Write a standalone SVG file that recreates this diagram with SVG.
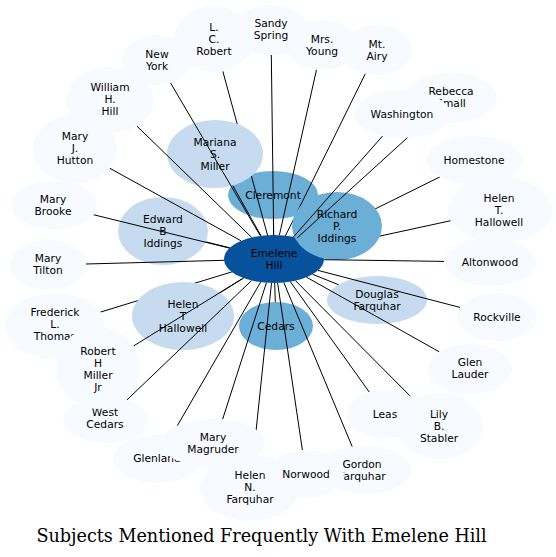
<svg xmlns="http://www.w3.org/2000/svg" width="556" height="557" viewBox="0 0 556 557">
<style>
.o{fill:#f7fbff}
.l{fill:#c6dbef}
.m{fill:#6baed6}
.d{fill:#08519c}
.t{font-family:"DejaVu Sans","Liberation Sans",sans-serif;font-size:10.7px;text-anchor:middle;fill:#000}
.e{stroke:#000;stroke-width:1;fill:none}
.title{font-family:"DejaVu Serif","Liberation Serif",serif;font-size:17.6px;text-anchor:middle;fill:#000}
</style>
<rect width="556" height="557" fill="#fff"/>

<g id="mid-nodes">
<g id="edward-b-iddings"><ellipse class="l" cx="163" cy="231" rx="45" ry="34"/><text class="t"><tspan x="163" y="223">Edward</tspan><tspan x="163" y="235">B</tspan><tspan x="163" y="247">Iddings</tspan></text></g>
<g id="cleremont"><ellipse class="m" cx="273" cy="195" rx="45" ry="24"/><text class="t" x="273" y="199">Cleremont</text></g>
<g id="cedars"><ellipse class="m" cx="276" cy="326" rx="37" ry="24"/><text class="t" x="276" y="330">Cedars</text></g>
<g id="douglas-farquhar"><ellipse class="l" cx="377" cy="300" rx="50" ry="24"/><text class="t"><tspan x="377" y="298">Douglas</tspan><tspan x="377" y="310">Farquhar</tspan></text></g>
</g>

<g id="connectors-under">
<path class="e" d="M274 259L222.8 71.2"/>
<path class="e" d="M274 259L365.4 73.6"/>
<path class="e" d="M274 259L439.9 176.9"/>
<path class="e" d="M274 259L450.8 220.7"/>
<path class="e" d="M274 259L100.4 312.1"/>
<path class="e" d="M274 259L337 226"/>
</g>

<g id="inner-nodes">
<g id="mariana-s-miller"><ellipse class="l" cx="215" cy="154" rx="48" ry="34"/><text class="t"><tspan x="215" y="146">Mariana</tspan><tspan x="215" y="158">S.</tspan><tspan x="215" y="170">Miller</tspan></text></g>
<g id="helen-t-hallowell-left"><ellipse class="l" cx="183" cy="316" rx="51" ry="34"/><text class="t"><tspan x="183" y="308">Helen</tspan><tspan x="183" y="320">T</tspan><tspan x="183" y="332">Hallowell</tspan></text></g>
<g id="emelene-hill"><ellipse class="d" cx="274" cy="259" rx="50" ry="24"/><text class="t"><tspan x="274" y="257">Emelene</tspan><tspan x="274" y="269">Hill</tspan></text></g>
<g id="richard-p-iddings"><ellipse class="m" cx="337" cy="226" rx="45" ry="34"/><text class="t"><tspan x="337" y="218">Richard</tspan><tspan x="337" y="230">P.</tspan><tspan x="337" y="242">Iddings</tspan></text></g>
</g>

<g id="connectors">
<path class="e" d="M273.7 235L271.3 55"/>
<path class="e" d="M260.4 235.9L170.6 83"/>
<path class="e" d="M279.4 235.1L316.5 69.7"/>
<path class="e" d="M297.3 237.8L427.4 119.5"/>
<path class="e" d="M293.5 236.9L382.6 136"/>
<path class="e" d="M324 259.7L444 261.4"/>
<path class="e" d="M318 270.4L460.3 307.5"/>
<path class="e" d="M306.5 277.2L439.4 351.9"/>
<path class="e" d="M295.5 280.7L413.9 399.8"/>
<path class="e" d="M290.3 281.7L369.3 392.1"/>
<path class="e" d="M283.8 282.5L352.2 446.6"/>
<path class="e" d="M277.6 282.9L302.4 450.1"/>
<path class="e" d="M271.5 283L253.5 455.1"/>
<path class="e" d="M266.4 282.7L222.6 419.3"/>
<path class="e" d="M260.6 282.1L171.3 436.1"/>
<path class="e" d="M251.6 280.5L127 399.9"/>
<path class="e" d="M243.4 278L133.5 346"/>
<path class="e" d="M224.1 260.3L86 264"/>
<path class="e" d="M229.5 248.1L93.4 214.7"/>
<path class="e" d="M241.2 240.9L109.7 168.2"/>
<path class="e" d="M251.8 237.5L136.9 126.1"/>
<path class="e" d="M261 235.8L232.8 185.6"/>
<path class="e" d="M229.7 247.8L205.7 241.8"/>
<path class="e" d="M243.6 278L220.2 292.7"/>
<path class="e" d="M273.6 235L273.4 219"/>
<path class="e" d="M274.7 283L275.3 302"/>
<path class="e" d="M312.5 274.3L338.5 284.7"/>
</g>

<g id="outer-nodes">
<g id="l-c-robert"><ellipse class="o" cx="214" cy="39" rx="40" ry="33"/><text class="t"><tspan x="214" y="31">L.</tspan><tspan x="214" y="43">C.</tspan><tspan x="214" y="55">Robert</tspan></text></g>
<g id="mrs-young"><ellipse class="o" cx="322" cy="45" rx="36" ry="25"/><text class="t"><tspan x="322" y="43">Mrs.</tspan><tspan x="322" y="55">Young</tspan></text></g>
<g id="sandy-spring"><ellipse class="o" cx="271" cy="30" rx="38" ry="25"/><text class="t"><tspan x="271" y="27">Sandy</tspan><tspan x="271" y="39">Spring</tspan></text></g>
<g id="new-york"><ellipse class="o" cx="157" cy="60" rx="35" ry="25"/><text class="t"><tspan x="157" y="58">New</tspan><tspan x="157" y="70">York</tspan></text></g>
<g id="mt-airy"><ellipse class="o" cx="377" cy="50" rx="35" ry="25"/><text class="t"><tspan x="377" y="48">Mt.</tspan><tspan x="377" y="60">Airy</tspan></text></g>
<g id="rebecca-small"><ellipse class="o" cx="451" cy="98" rx="46" ry="25"/><text class="t"><tspan x="451" y="95">Rebecca</tspan><tspan x="451" y="107">Small</tspan></text></g>
<g id="washington"><ellipse class="o" cx="402" cy="114" rx="48" ry="24"/><text class="t" x="402" y="118">Washington</text></g>
<g id="homestone"><ellipse class="o" cx="474" cy="160" rx="48" ry="24"/><text class="t" x="474" y="164">Homestone</text></g>
<g id="helen-t-hallowell-right"><ellipse class="o" cx="500" cy="210" rx="52" ry="33"/><text class="t"><tspan x="499" y="202">Helen</tspan><tspan x="499" y="214">T.</tspan><tspan x="499" y="226">Hallowell</tspan></text></g>
<g id="altonwood"><ellipse class="o" cx="490" cy="262" rx="46" ry="24"/><text class="t" x="490" y="266">Altonwood</text></g>
<g id="rockville"><ellipse class="o" cx="497" cy="317" rx="40" ry="24"/><text class="t" x="497" y="321">Rockville</text></g>
<g id="glen-lauder"><ellipse class="o" cx="470" cy="369" rx="42" ry="25"/><text class="t"><tspan x="470" y="366">Glen</tspan><tspan x="470" y="378">Lauder</tspan></text></g>
<g id="leas"><ellipse class="o" cx="385" cy="414" rx="38" ry="24"/><text class="t" x="385" y="418">Leas</text></g>
<g id="lily-b-stabler"><ellipse class="o" cx="440" cy="426" rx="43" ry="33"/><text class="t"><tspan x="439" y="418">Lily</tspan><tspan x="439" y="430">B.</tspan><tspan x="439" y="442">Stabler</tspan></text></g>
<g id="helen-n-farquhar"><ellipse class="o" cx="250" cy="488" rx="50" ry="33"/><text class="t"><tspan x="250" y="479">Helen</tspan><tspan x="250" y="491">N.</tspan><tspan x="250" y="503">Farquhar</tspan></text></g>
<g id="gordon-farquhar"><ellipse class="o" cx="365" cy="470" rx="46" ry="24"/><text class="t"><tspan x="362" y="468">Gordon</tspan><tspan x="362" y="480">Farquhar</tspan></text></g>
<g id="norwood"><ellipse class="o" cx="306" cy="474" rx="38" ry="24"/><text class="t" x="306" y="478">Norwood</text></g>
<g id="glenland"><ellipse class="o" cx="158" cy="459" rx="45" ry="24"/><text class="t" x="157" y="462">Glenland</text></g>
<g id="mary-magruder"><ellipse class="o" cx="213" cy="443" rx="52" ry="24"/><text class="t"><tspan x="213" y="441">Mary</tspan><tspan x="213" y="453">Magruder</tspan></text></g>
<g id="west-cedars"><ellipse class="o" cx="106" cy="420" rx="43" ry="23"/><text class="t"><tspan x="105" y="416">West</tspan><tspan x="105" y="428">Cedars</tspan></text></g>
<g id="frederick-l-thomas"><ellipse class="o" cx="55" cy="326" rx="50" ry="33"/><text class="t"><tspan x="55" y="316">Frederick</tspan><tspan x="55" y="328">L.</tspan><tspan x="55" y="340">Thomas</tspan></text></g>
<g id="robert-h-miller-jr"><ellipse class="o" cx="98" cy="368" rx="42" ry="41"/><text class="t"><tspan x="98" y="355">Robert</tspan><tspan x="98" y="367">H</tspan><tspan x="98" y="379">Miller</tspan><tspan x="98" y="391">Jr</tspan></text></g>
<g id="mary-tilton"><ellipse class="o" cx="48" cy="265" rx="38" ry="25"/><text class="t"><tspan x="48" y="262">Mary</tspan><tspan x="48" y="274">Tilton</tspan></text></g>
<g id="mary-brooke"><ellipse class="o" cx="54" cy="205" rx="43" ry="24"/><text class="t"><tspan x="53" y="203">Mary</tspan><tspan x="53" y="215">Brooke</tspan></text></g>
<g id="mary-j-hutton"><ellipse class="o" cx="75" cy="149" rx="42" ry="34"/><text class="t"><tspan x="75" y="140">Mary</tspan><tspan x="75" y="152">J.</tspan><tspan x="75" y="164">Hutton</tspan></text></g>
<g id="william-h-hill"><ellipse class="o" cx="110" cy="100" rx="44" ry="33"/><text class="t"><tspan x="110" y="91">William</tspan><tspan x="110" y="103">H.</tspan><tspan x="110" y="115">Hill</tspan></text></g>
</g>

<text class="title" x="261.5" y="542">Subjects Mentioned Frequently With Emelene Hill</text>
</svg>
